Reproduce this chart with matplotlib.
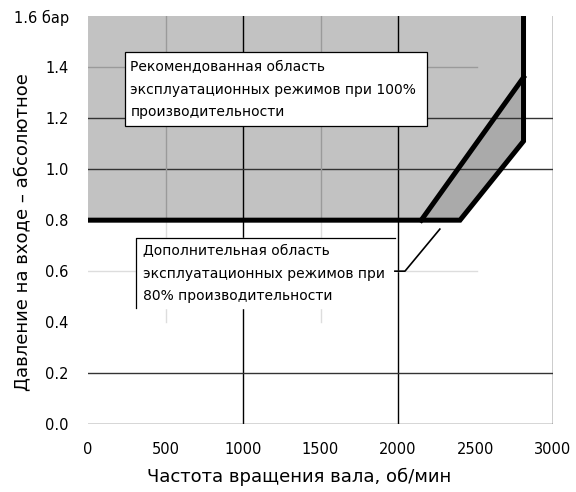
import matplotlib.pyplot as plt

# границы областей (об/мин, бар)
rec_x = [0, 2150, 2810, 2810, 0]
rec_y = [0.8, 0.8, 1.36, 1.6, 1.6]
add_x = [2150, 2400, 2810, 2810]
add_y = [0.8, 0.8, 1.11, 1.36]
outer_x = [0, 2400, 2810, 2810]
outer_y = [0.8, 0.8, 1.11, 1.6]
inner_x = [2150, 2810]
inner_y = [0.8, 1.36]

x_ticks = [0, 500, 1000, 1500, 2000, 2500, 3000]
y_ticks = [0.0, 0.2, 0.4, 0.6, 0.8, 1.0, 1.2, 1.4, 1.6]
y_labels = ['0.0', '0.2', '0.4', '0.6', '0.8', '1.0', '1.2', '1.4', '1.6 бар']

fig = plt.figure(figsize=(5.76, 4.92), dpi=100)
ax = fig.add_axes([0.153, 0.138, 0.807, 0.829])
ax.set_xlim(0, 3000)
ax.set_ylim(0, 1.6)
for s in ax.spines.values():
    s.set_visible(False)

# заливка
ax.fill(rec_x, rec_y, color='#c2c2c2', zorder=1)
ax.fill(add_x, add_y, color='#aaaaaa', zorder=1)

# сетка
for xv in [1000, 2000, 3000]:
    ax.plot([xv, xv], [0, 1.6], color='black', lw=1.0, zorder=2)
for yv in [0.0, 0.2, 1.0, 1.2]:
    ax.plot([0, 3000], [yv, yv], color='#333333', lw=1.0, zorder=2)
for yv in [0.6, 1.4]:
    ax.plot([0, 2510], [yv, yv], color='#9a9a9a' if yv > 1 else '#dddddd', lw=1.0, zorder=2)
for xv in [500, 1500]:
    ax.plot([xv, xv], [0.8, 1.6], color='#9a9a9a', lw=1.0, zorder=2)
    ax.plot([xv, xv], [0.4, 0.8], color='#dddddd', lw=1.0, zorder=2)

# границы
ax.plot(outer_x, outer_y, color='black', lw=3.6, zorder=4, solid_joinstyle='miter')
ax.plot(inner_x, inner_y, color='black', lw=3.6, zorder=4)

# подпись 1
ax.fill([240, 2190, 2190, 240], [1.17, 1.17, 1.46, 1.46], fc='white', ec='black', lw=0.9, zorder=5)
ax.text(272, 1.312, 'Рекомендованная область\nэксплуатационных режимов при 100%\nпроизводительности',
        fontsize=10, va='center', ha='left', linespacing=1.75, zorder=6)
# подпись 2
ax.fill([310, 1980, 1980, 310], [0.455, 0.455, 0.73, 0.73], color='white', zorder=5)
ax.plot([310, 310, 1980], [0.455, 0.73, 0.73], color='black', lw=0.9, zorder=6)
ax.text(355, 0.59, 'Дополнительная область\nэксплуатационных режимов при\n80% производительности',
        fontsize=10, va='center', ha='left', linespacing=1.75, zorder=6)
ax.plot([1980, 2045, 2270], [0.6, 0.6, 0.765], color='black', lw=1.2, zorder=6)

ax.set_xticks(x_ticks)
ax.set_xticklabels([str(v) for v in x_ticks], fontsize=10.5)
ax.set_yticks(y_ticks)
ax.set_yticklabels(y_labels, fontsize=10.5)
ax.tick_params(length=0, pad=14, axis='y')
ax.tick_params(length=0, pad=13, axis='x')
ax.set_xlabel('Частота вращения вала, об/мин', fontsize=13)
ax.xaxis.set_label_coords(0.454, -0.106)
fig.text(22 / 576, 1 - 232 / 492, 'Давление на входе – абсолютное', fontsize=13,
         rotation=90, ha='center', va='center')

fig.savefig('out.png', dpi=100)
